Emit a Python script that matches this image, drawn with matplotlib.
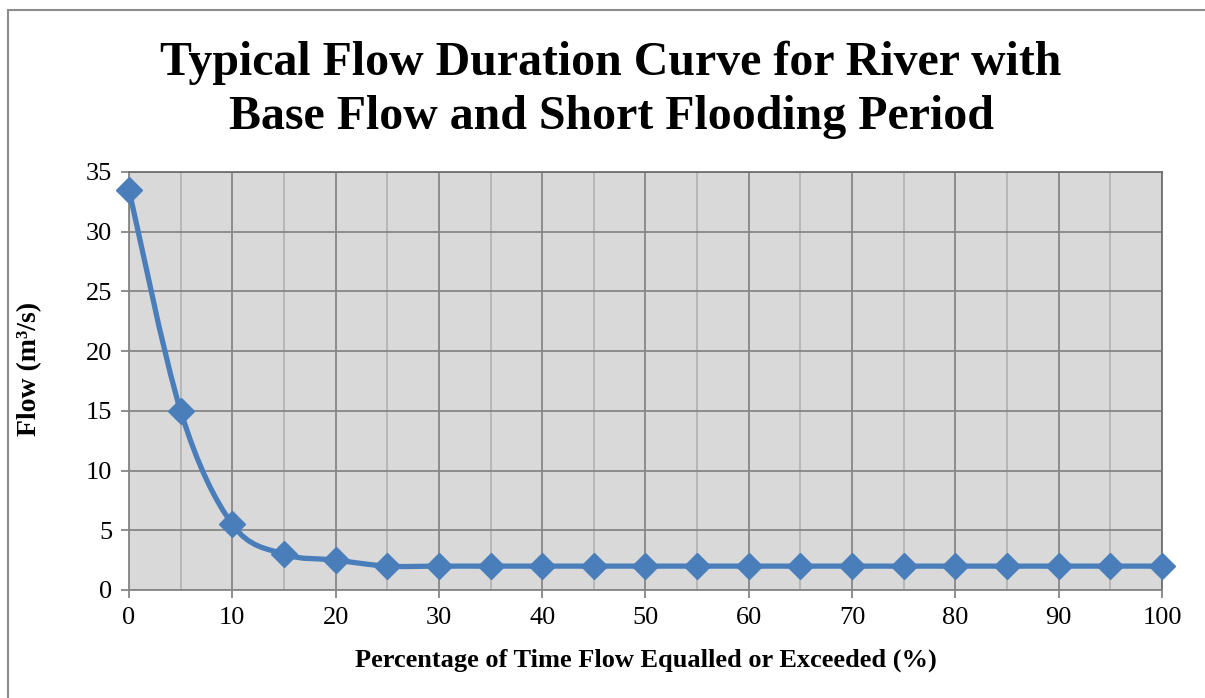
import numpy as np
import matplotlib
matplotlib.use('Agg')
import matplotlib.pyplot as plt
from matplotlib.path import Path
from matplotlib.patches import PathPatch, Rectangle

# datos de la curva
pct_time = [0, 5, 10, 15, 20, 25, 30, 35, 40, 45, 50, 55, 60, 65, 70, 75, 80, 85, 90, 95, 100]
flow = [33.5, 15, 5.5, 3, 2.5, 2, 2, 2, 2, 2, 2, 2, 2, 2, 2, 2, 2, 2, 2, 2, 2]
x_ticks = list(range(0, 101, 10))
y_ticks = list(range(0, 36, 5))

plt.rcParams['font.family'] = ['Liberation Serif', 'DejaVu Serif']

fig = plt.figure(figsize=(12.05, 6.98), dpi=100)
ax = fig.add_axes([129 / 1205, 1 - 590 / 698, (1162 - 129) / 1205, (590 - 172) / 698])

# marco exterior del grafico
fig.patches.append(Rectangle((8 / 1205, -0.1), 1.2, 1 - 10 / 698 + 0.1, transform=fig.transFigure,
                             fill=False, edgecolor='#8c8c8c', linewidth=1.5))

ax.set_facecolor('#d9d9d9')
ax.set_xlim(0, 100)
ax.set_ylim(0, 35)
ax.set_xticks(x_ticks)
ax.set_yticks(y_ticks)
ax.set_xticks(range(5, 100, 10), minor=True)
ax.grid(True, which='major', color='#868686', linewidth=1.3)
ax.grid(True, which='minor', axis='x', color='#b4b4b4', linewidth=1.3)
ax.set_axisbelow(True)
ax.tick_params(which='major', direction='out', length=6, width=1.3, color='#868686',
               labelsize=19, pad=6)
ax.tick_params(which='minor', length=0)
for s in ax.spines.values():
    s.set_color('#868686')
    s.set_linewidth(1.3)
ax.spines['top'].set_color('#6f6f6f')
ax.spines['right'].set_color('#6f6f6f')

# linea suavizada tipo Excel (bezier Catmull-Rom)
x = np.array(pct_time, dtype=float)
y = np.array(flow, dtype=float)
verts = [(x[0], y[0])]
codes = [Path.MOVETO]
n = len(x)
for i in range(n - 1):
    x0, y0 = (x[i - 1], y[i - 1]) if i > 0 else (x[i], y[i])
    x3, y3 = (x[i + 2], y[i + 2]) if i + 2 < n else (x[i + 1], y[i + 1])
    c1 = (x[i] + (x[i + 1] - x0) / 6, y[i] + (y[i + 1] - y0) / 6)
    c2 = (x[i + 1] - (x3 - x[i]) / 6, y[i + 1] - (y3 - y[i]) / 6)
    verts += [c1, c2, (x[i + 1], y[i + 1])]
    codes += [Path.CURVE4] * 3
ax.add_patch(PathPatch(Path(verts, codes), facecolor='none', edgecolor='#4a7ebb',
                       linewidth=3.8, clip_on=False, zorder=3))
ax.plot(pct_time, flow, linestyle='none', marker='D', markersize=13, color='#4a7ebb',
        clip_on=False, zorder=4)

ax.set_xlabel('Percentage of Time Flow Equalled or Exceeded (%)', fontsize=19,
              fontweight='bold')
ax.set_ylabel('Flow (m³/s)', fontsize=20, fontweight='bold')
ax.xaxis.set_label_coords(0.5, -(660 - 590) / 418, transform=ax.transAxes)
ax.yaxis.set_label_coords(-(129 - 30) / 1033, (590 - 369) / 418, transform=ax.transAxes)
ax.xaxis.label.set_va('center')
ax.yaxis.label.set_va('center')

fig.text(611 / 1205, 1 - 90 / 698, 'Typical Flow Duration Curve for River with\nBase Flow and Short Flooding Period',
         ha='center', va='center', fontsize=34.5, fontweight='bold', linespacing=1.3)

fig.savefig('out.png', dpi=100)
